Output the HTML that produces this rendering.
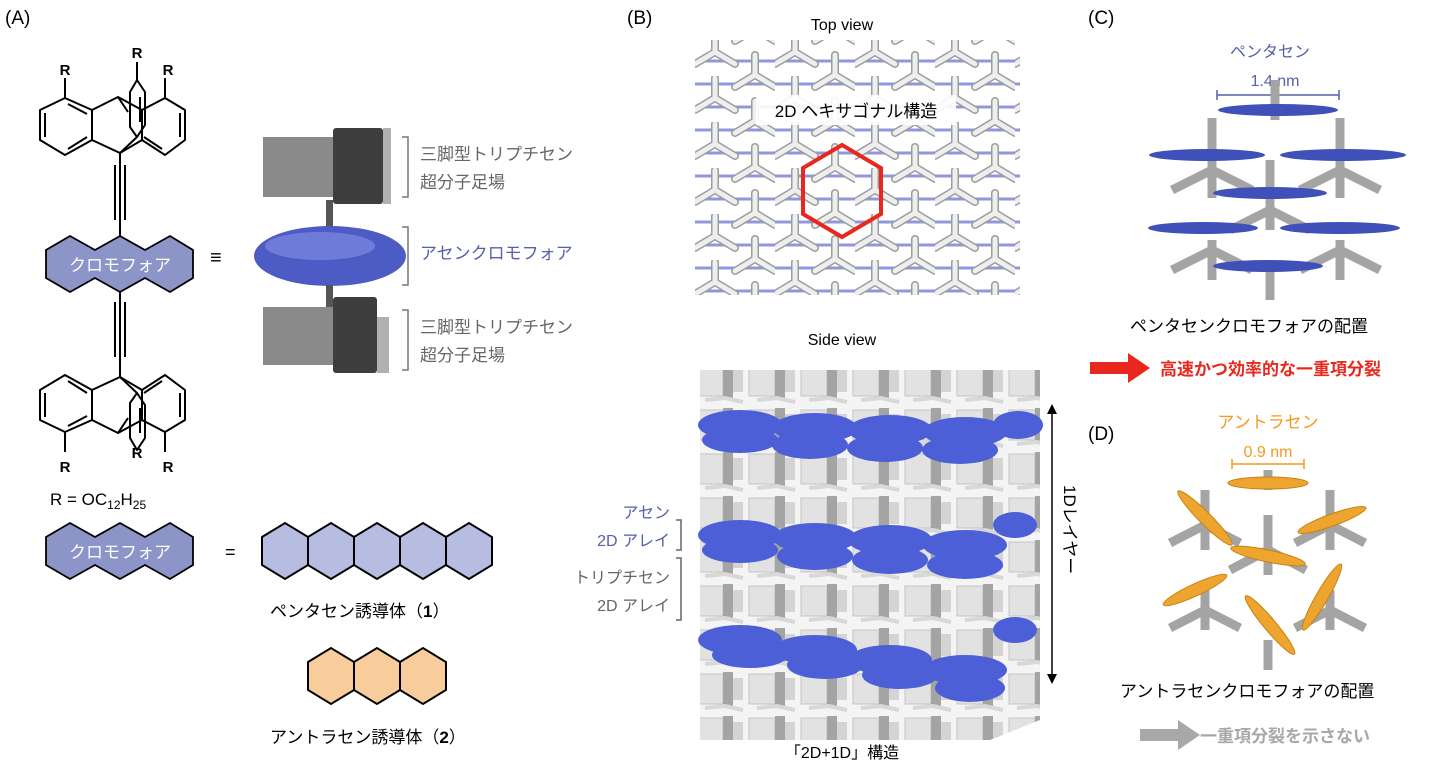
<!DOCTYPE html>
<html><head><meta charset="utf-8"><style>
body{margin:0;background:#fff;width:1440px;height:767px;overflow:hidden}
svg{display:block}
text{font-family:"Liberation Sans","Noto Sans CJK JP",sans-serif}
</style></head><body>
<svg width="1440" height="767" viewBox="0 0 1440 767" xmlns="http://www.w3.org/2000/svg">
<defs>
<pattern id="tv" x="695" y="30" width="80" height="46" patternUnits="userSpaceOnUse">
 <path d="M0 8H80M0 31H80" stroke="#8f98dc" stroke-width="3"/>
 <g stroke="#9c9c9c" stroke-width="8" fill="none" stroke-linecap="round"><path d="M20 22V2M20 22L0 34M20 22L40 34"/><path d="M60 45V25M60 45L40 57M60 45L80 57M60 -1V-21M60 -1L40 11M60 -1L80 11"/></g>
 <g stroke="#eeeeee" stroke-width="5" fill="none" stroke-linecap="round"><path d="M20 22V2M20 22L0 34M20 22L40 34"/><path d="M60 45V25M60 45L40 57M60 45L80 57M60 -1V-21M60 -1L40 11M60 -1L80 11"/></g>
</pattern>
<pattern id="sv" x="695" y="360" width="52" height="44" patternUnits="userSpaceOnUse">
 <rect x="0" y="0" width="52" height="44" fill="#f4f4f4"/>
 <rect x="2" y="6" width="26" height="30" fill="#e2e2e2" stroke="#c4c4c4"/>
 <rect x="28" y="4" width="10" height="34" fill="#a4a4a4"/>
 <rect x="38" y="10" width="10" height="22" fill="#d4d4d4"/>
 <path d="M10 40L30 38L48 42" stroke="#d8d8d8" stroke-width="4" fill="none"/>
</pattern>
<g id="trip" stroke="#000" stroke-width="2" fill="none" stroke-linejoin="round">
 <path d="M65 98L92 110V140L65 155L40 140V110Z"/>
 <path d="M45 113V137M68 104L87 114M68 149L87 137"/>
 <path d="M165 98L185 110V140L165 155L142 140V110Z"/>
 <path d="M180 113V137M162 149L144 137"/>
 <path d="M92 110L118 97L142 110M92 140L120 153L142 140"/>
 <path d="M118 97L128 112M137 80L145 92V125L137 137L130 127V92Z"/>
 <path d="M140 97V122M120 153L137 137"/>
 <path d="M65 98V78M165 98V78"/>
</g>
</defs>

<!-- (A) -->
<text x="5" y="24" font-size="19">(A)</text>
<use href="#trip"/>
<path d="M137 80V62" stroke="#000" stroke-width="2"/>
<text x="65" y="75" font-size="15" font-weight="bold" text-anchor="middle">R</text>
<text x="137" y="58" font-size="15" font-weight="bold" text-anchor="middle">R</text>
<text x="168" y="75" font-size="15" font-weight="bold" text-anchor="middle">R</text>
<g transform="translate(0,530) scale(1,-1)"><use href="#trip"/></g>
<text x="65" y="472" font-size="15" font-weight="bold" text-anchor="middle">R</text>
<text x="137" y="458" font-size="15" font-weight="bold" text-anchor="middle">R</text>
<text x="168" y="472" font-size="15" font-weight="bold" text-anchor="middle">R</text>
<g stroke="#000" stroke-width="2">
 <path d="M120 153V238M115 165v55M120 165v55M125 165v55"/>
 <path d="M120 290V377M115 302v55M125 302v55"/>
</g>
<text x="50" y="505" font-size="17">R = OC<tspan font-size="12" dy="4">12</tspan><tspan dy="-4">H</tspan><tspan font-size="12" dy="4">25</tspan></text>

<path d="M46 250L70 236L95 250L120 236L145 250L170 236L193 250V278L170 292L145 278L120 292L95 278L70 292L46 278Z" fill="#8c94c8" stroke="#000" stroke-width="1.8"/>
<text x="120" y="271" font-size="17" fill="#fff" text-anchor="middle">クロモフォア</text>
<text x="210" y="264" font-size="20">≡</text>

<!-- block schematic -->
<rect x="263" y="137" width="70" height="60" fill="#8a8a8a"/>
<rect x="333" y="128" width="50" height="76" rx="3" fill="#3e3e3e"/>
<rect x="383" y="128" width="8" height="76" fill="#b0b0b0"/>
<rect x="326" y="200" width="7" height="28" fill="#555"/>
<ellipse cx="330" cy="256" rx="76" ry="30" fill="#4d5bc4"/>
<ellipse cx="320" cy="246" rx="55" ry="14" fill="#6f7bd8"/>
<rect x="326" y="285" width="7" height="22" fill="#555"/>
<rect x="263" y="307" width="70" height="58" fill="#8a8a8a"/>
<rect x="333" y="297" width="44" height="76" rx="3" fill="#3e3e3e"/>
<rect x="377" y="317" width="12" height="56" fill="#b0b0b0"/>
<g stroke="#777" stroke-width="1.5" fill="none">
 <path d="M402 137h6v60h-6"/><path d="M402 227h6v58h-6"/><path d="M402 310h6v60h-6"/>
</g>
<text x="420" y="160" font-size="17" fill="#666">三脚型トリプチセン</text>
<text x="420" y="188" font-size="17" fill="#666">超分子足場</text>
<text x="420" y="259" font-size="17" fill="#5560a8">アセンクロモフォア</text>
<text x="420" y="333" font-size="17" fill="#666">三脚型トリプチセン</text>
<text x="420" y="361" font-size="17" fill="#666">超分子足場</text>

<path d="M46 537L70 523L95 537L120 523L145 537L170 523L193 537V565L170 579L145 565L120 579L95 565L70 579L46 565Z" fill="#8c94c8" stroke="#000" stroke-width="1.8"/>
<text x="120" y="558" font-size="17" fill="#fff" text-anchor="middle">クロモフォア</text>
<text x="225" y="558" font-size="18">=</text>
<g fill="#b7bde0" stroke="#000" stroke-width="2">
<path d="M262 537L285 523L308 537L331 523L354 537L377 523L400 537L423 523L446 537L469 523L492 537V565L469 579L446 565L423 579L400 565L377 579L354 565L331 579L308 565L285 579L262 565Z"/>
<path d="M308 537V565M354 537V565M400 537V565M446 537V565" fill="none"/>
</g>
<text x="270" y="617" font-size="17">ペンタセン誘導体（<tspan font-weight="bold">1</tspan>）</text>
<g fill="#f9cc9c" stroke="#000" stroke-width="2">
<path d="M308 662L331 648L354 662L377 648L400 662L423 648L446 662V690L423 704L400 690L377 704L354 690L331 704L308 690Z"/>
<path d="M354 662V690M400 662V690" fill="none"/>
</g>
<text x="270" y="743" font-size="17">アントラセン誘導体（<tspan font-weight="bold">2</tspan>）</text>

<!-- (B) -->
<text x="627" y="24" font-size="19">(B)</text>
<text x="842" y="30" font-size="16" text-anchor="middle">Top view</text>
<rect x="695" y="40" width="325" height="255" fill="url(#tv)"/>
<rect x="756" y="95" width="200" height="30" fill="#fff" opacity="0.9"/>
<text x="856" y="117" font-size="17" text-anchor="middle">2D ヘキサゴナル構造</text>
<path d="M842 145L881 168V214L842 237L803 214V168Z" fill="none" stroke="#e8281e" stroke-width="4"/>
<text x="842" y="345" font-size="16" text-anchor="middle">Side view</text>
<path d="M700 370L1040 370L1040 720L990 740L700 740Z" fill="url(#sv)"/>
<g fill="#4c5fd6">
 <ellipse cx="740" cy="425" rx="42" ry="15"/><ellipse cx="815" cy="428" rx="42" ry="15"/><ellipse cx="890" cy="430" rx="42" ry="15"/><ellipse cx="965" cy="432" rx="42" ry="15"/><ellipse cx="1018" cy="425" rx="25" ry="14"/>
 <ellipse cx="740" cy="440" rx="38" ry="13"/><ellipse cx="810" cy="445" rx="38" ry="14"/><ellipse cx="885" cy="448" rx="38" ry="14"/><ellipse cx="960" cy="450" rx="38" ry="14"/>
 <ellipse cx="740" cy="535" rx="42" ry="15"/><ellipse cx="815" cy="538" rx="42" ry="15"/><ellipse cx="890" cy="540" rx="42" ry="15"/><ellipse cx="965" cy="545" rx="42" ry="15"/><ellipse cx="1015" cy="525" rx="22" ry="13"/>
 <ellipse cx="740" cy="550" rx="38" ry="13"/><ellipse cx="815" cy="556" rx="38" ry="14"/><ellipse cx="890" cy="560" rx="38" ry="14"/><ellipse cx="965" cy="565" rx="38" ry="14"/>
 <ellipse cx="740" cy="640" rx="42" ry="15"/><ellipse cx="815" cy="650" rx="42" ry="15"/><ellipse cx="890" cy="660" rx="42" ry="15"/><ellipse cx="965" cy="670" rx="42" ry="15"/><ellipse cx="1015" cy="630" rx="22" ry="13"/>
 <ellipse cx="750" cy="655" rx="38" ry="13"/><ellipse cx="825" cy="665" rx="38" ry="14"/><ellipse cx="900" cy="675" rx="38" ry="14"/><ellipse cx="970" cy="688" rx="35" ry="14"/>
</g>
<text x="670" y="518" font-size="16" fill="#5560a8" text-anchor="end">アセン</text>
<text x="670" y="546" font-size="16" fill="#5560a8" text-anchor="end">2D アレイ</text>
<text x="670" y="583" font-size="16" fill="#666" text-anchor="end">トリプチセン</text>
<text x="670" y="611" font-size="16" fill="#666" text-anchor="end">2D アレイ</text>
<path d="M676 520h5v30h-5M676 558h5v62h-5" stroke="#666" stroke-width="1.5" fill="none"/>
<path d="M1052 406V682" stroke="#000" stroke-width="1.5"/>
<path d="M1047 414l5-10 5 10zM1047 674l5 10 5-10z" fill="#000"/>
<text transform="translate(1064,485) rotate(90)" font-size="17">1Dレイヤー</text>
<text x="842" y="758" font-size="16" text-anchor="middle">「2D+1D」構造</text>

<!-- (C) -->
<text x="1088" y="24" font-size="19">(C)</text>
<text x="1270" y="57" font-size="16" fill="#5560a8" text-anchor="middle">ペンタセン</text>
<text x="1275" y="86" font-size="16" fill="#5560a8" text-anchor="middle">1.4 nm</text>
<path d="M1217 95h122M1217 90v10M1339 90v10" stroke="#5560a8" stroke-width="1.5"/>
<g stroke="#a4a4a4" stroke-width="9" fill="none">
 <path d="M1212 118v80M1212 170l-40 20M1212 170l40 20M1275 80v40M1340 118v80M1340 170l-40 20M1340 170l40 20"/>
 <path d="M1270 160v70M1270 210l-40 20M1270 210l40 20"/>
 <path d="M1212 240v40M1212 250l-40 20M1212 250l40 20M1340 240v40M1340 250l-40 20M1340 250l40 20M1270 270v30"/>
</g>
<g fill="#3f50b8">
 <ellipse cx="1278" cy="110" rx="60" ry="6"/><ellipse cx="1207" cy="155" rx="58" ry="6"/><ellipse cx="1343" cy="155" rx="63" ry="6"/>
 <ellipse cx="1270" cy="193" rx="57" ry="6"/><ellipse cx="1203" cy="228" rx="55" ry="6"/><ellipse cx="1340" cy="228" rx="60" ry="6"/><ellipse cx="1268" cy="266" rx="55" ry="6"/>
</g>
<text x="1130" y="332" font-size="17">ペンタセンクロモフォアの配置</text>
<path d="M1090 362h38v-9l22 15-22 15v-9h-38z" fill="#e8281e"/>
<text x="1160" y="375" font-size="17" font-weight="bold" fill="#e8281e">高速かつ効率的な一重項分裂</text>

<!-- (D) -->
<text x="1088" y="440" font-size="19">(D)</text>
<rect x="1200" y="405" width="135" height="60" fill="#fff" opacity="0.9"/>
<text x="1268" y="428" font-size="17" fill="#f39a1e" text-anchor="middle">アントラセン</text>
<text x="1268" y="457" font-size="16" fill="#f39a1e" text-anchor="middle">0.9 nm</text>
<path d="M1232 464h72M1232 459v10M1304 459v10" stroke="#f39a1e" stroke-width="1.5"/>
<g stroke="#a4a4a4" stroke-width="9" fill="none">
 <path d="M1205 490v60M1205 525l-35 18M1205 525l35 18M1330 490v60M1330 525l-35 18M1330 525l35 18"/>
 <path d="M1268 470v20M1268 515v60M1268 550l-38 20M1268 550l38 20"/>
 <path d="M1205 590v40M1205 610l-35 18M1205 610l35 18M1330 590v40M1330 610l-35 18M1330 610l35 18M1268 640v30"/>
</g>
<g fill="#eea530" stroke="#c88010" stroke-width="1">
 <ellipse cx="1268" cy="483" rx="40" ry="6"/>
 <ellipse cx="1205" cy="518" rx="38" ry="6" transform="rotate(45 1205 518)"/>
 <ellipse cx="1332" cy="520" rx="36" ry="6" transform="rotate(-20 1332 520)"/>
 <ellipse cx="1268" cy="556" rx="38" ry="6" transform="rotate(12 1268 556)"/>
 <ellipse cx="1195" cy="590" rx="35" ry="6" transform="rotate(-25 1195 590)"/>
 <ellipse cx="1322" cy="597" rx="38" ry="6" transform="rotate(-60 1322 597)"/>
 <ellipse cx="1270" cy="625" rx="38" ry="6" transform="rotate(50 1270 625)"/>
</g>
<text x="1120" y="697" font-size="17">アントラセンクロモフォアの配置</text>
<path d="M1140 729h38v-9l22 15-22 15v-9h-38z" fill="#a8a8a8"/>
<text x="1200" y="742" font-size="17" font-weight="bold" fill="#a8a8a8">一重項分裂を示さない</text>
</svg>
</body></html>
